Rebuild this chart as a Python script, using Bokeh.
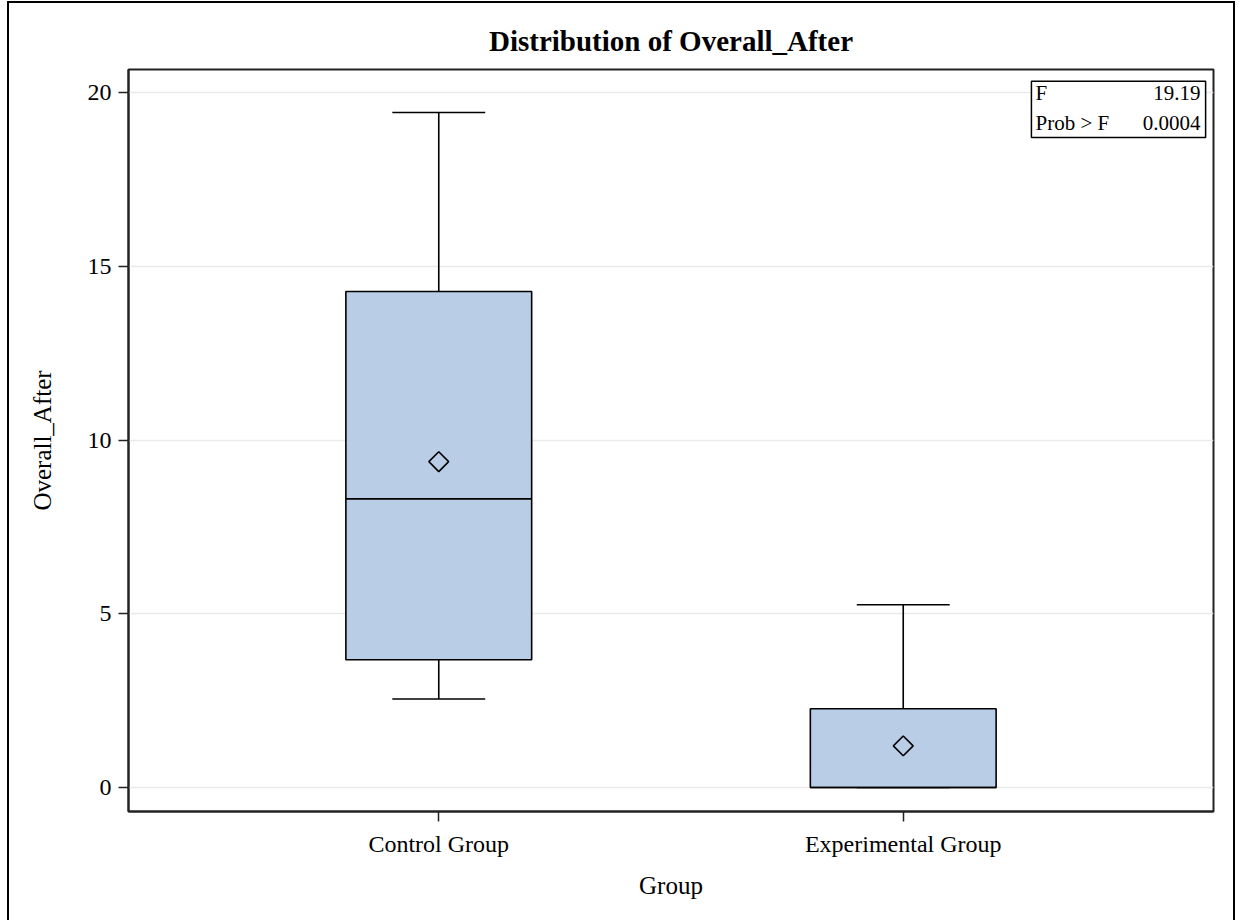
import numpy as np
from bokeh.plotting import figure
from bokeh.models import (FactorRange, Range1d, BoxAnnotation, Label,
                          ColumnDataSource, FixedTicker)
from bokeh.transform import dodge
from bokeh.embed import file_html
from bokeh.resources import INLINE

# ---- data ----
groups = ["Control Group", "Experimental Group"]
q1 = [3.68, 0.0]
median = [8.31, 0.0]
q3 = [14.28, 2.27]
lower_whisker = [2.55, 0.0]
upper_whisker = [19.43, 5.26]
mean = [9.38, 1.20]
y_ticks = [0, 5, 10, 15, 20]
f_label, f_value = "F", "19.19"
p_label, p_value = "Prob > F", "0.0004"

FONT = "Liberation Serif"
BOX_FILL = "#B9CEE6"

src = ColumnDataSource(dict(g=groups, q1=q1, med=median, q3=q3,
                            lo=lower_whisker, hi=upper_whisker, mean=mean))

p = figure(x_range=FactorRange(*groups, range_padding=0.168),
           y_range=Range1d(-0.69, 20.67),
           width=1228, height=919,
           output_backend="svg", toolbar_location=None,
           min_border_left=119, min_border_right=24,
           min_border_top=66, min_border_bottom=111,
           title="Distribution of Overall_After")

p.styles = {"margin-left": "7px", "margin-top": "1px",
            "border-top": "2px solid black",
            "border-left": "2px solid black",
            "border-right": "2px solid black"}

# title
p.title.align = "center"
p.title.text_font = FONT
p.title.text_font_size = "29px"
p.title.text_font_style = "bold"
p.title.text_color = "black"
p.title.standoff = 25

# frame
p.outline_line_color = "#222222"
p.outline_line_width = 2
p.background_fill_color = "white"
p.border_fill_color = "white"

# grid
p.xgrid.visible = False
p.ygrid.grid_line_color = "#e9e9e9"
p.ygrid.grid_line_width = 1.5
p.yaxis.ticker = FixedTicker(ticks=y_ticks)

for ax in (p.xaxis[0], p.yaxis[0]):
    ax.axis_line_color = "#222222"
    ax.axis_line_width = 2
    ax.major_tick_line_color = "#222222"
    ax.major_tick_line_width = 1.5
    ax.major_tick_out = 10
    ax.major_tick_in = 0
    ax.minor_tick_line_color = None
    ax.major_label_text_font = FONT
    ax.major_label_text_font_size = "24px"
    ax.major_label_text_color = "black"
    ax.axis_label_text_font = FONT
    ax.axis_label_text_font_size = "25px"
    ax.axis_label_text_font_style = "normal"
    ax.axis_label_text_color = "black"

p.xaxis.axis_label = "Group"
p.yaxis.axis_label = "Overall_After"
p.yaxis.major_label_standoff = 7
p.xaxis.major_label_standoff = 9
p.yaxis.axis_label_standoff = 29
p.xaxis.axis_label_standoff = 12

# whisker stems
p.segment(x0="g", x1="g", y0="q3", y1="hi", source=src,
          line_color="black", line_width=1.6)
p.segment(x0="g", x1="g", y0="lo", y1="q1", source=src,
          line_color="black", line_width=1.6)
# whisker caps
p.segment(x0=dodge("g", -0.1, range=p.x_range), x1=dodge("g", 0.1, range=p.x_range),
          y0="hi", y1="hi", source=src, line_color="black", line_width=1.6)
p.segment(x0=dodge("g", -0.1, range=p.x_range), x1=dodge("g", 0.1, range=p.x_range),
          y0="lo", y1="lo", source=src, line_color="black", line_width=1.6)
# boxes
p.vbar(x="g", top="q3", bottom="q1", width=0.4, source=src,
       fill_color=BOX_FILL, line_color="black", line_width=1.6)
# median
p.segment(x0=dodge("g", -0.2, range=p.x_range), x1=dodge("g", 0.2, range=p.x_range),
          y0="med", y1="med", source=src, line_color="black", line_width=1.6)
# mean
p.scatter(x="g", y="mean", source=src, marker="square", angle=np.pi / 4,
          size=14, fill_alpha=0, line_color="black", line_width=1.6)

# inset statistics box (top right)
p.add_layout(BoxAnnotation(left=1.776, right=2.151, bottom=18.71, top=20.33,
                           fill_color="white", fill_alpha=1.0,
                           line_color="black", line_alpha=1.0, line_width=1.5))
for txt, x, y, align in [(f_label, 1.785, 19.98, "left"),
                         (f_value, 2.140, 19.98, "right"),
                         (p_label, 1.785, 19.14, "left"),
                         (p_value, 2.140, 19.14, "right")]:
    p.add_layout(Label(x=x, y=y, text=txt, text_align=align,
                       text_baseline="middle", text_font=FONT,
                       text_font_size="21px", text_color="black"))

open("out.html", "w").write(file_html(p, INLINE))
